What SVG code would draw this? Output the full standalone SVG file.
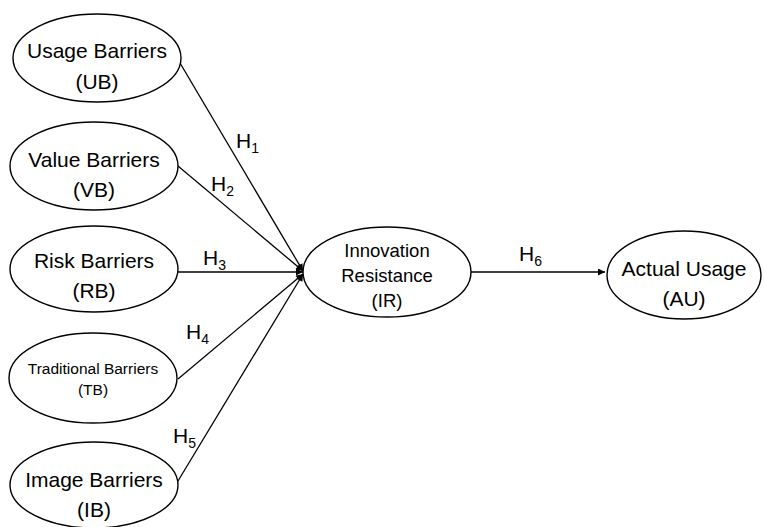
<svg xmlns="http://www.w3.org/2000/svg" width="764" height="527" viewBox="0 0 764 527">
<style>
.n ellipse{fill:#fff;stroke:#000;stroke-width:1.4}
text{font-family:"Liberation Sans",Arial,sans-serif;fill:#000;text-anchor:middle}
.big{font-size:21px}
.sm{font-size:15.5px}
.md{font-size:18.5px}
.h{font-size:21px;text-anchor:start}
.h tspan.s{font-size:14px}
#edges line{stroke:#000;stroke-width:1.3;fill:none}
</style>
<defs>
<marker id="ah" viewBox="0 0 10 10" refX="10" refY="5" markerWidth="8" markerHeight="7" markerUnits="userSpaceOnUse" orient="auto">
<path d="M0,0 L10,5 L0,10 z" fill="#000"/>
</marker>
</defs>
<rect width="764" height="527" fill="#fff"/>
<g id="edges">
<line x1="180" y1="63" x2="303" y2="271" marker-end="url(#ah)"/>
<line x1="178" y1="166" x2="303" y2="271" marker-end="url(#ah)"/>
<line x1="178" y1="272" x2="303" y2="272" marker-end="url(#ah)"/>
<line x1="178" y1="379" x2="303" y2="274" marker-end="url(#ah)"/>
<line x1="178" y1="481" x2="303" y2="274" marker-end="url(#ah)"/>
<line x1="471" y1="272" x2="605" y2="272" marker-end="url(#ah)"/>
</g>
<g id="labels">
<text class="h" x="236" y="148">H<tspan class="s" dy="5">1</tspan></text>
<text class="h" x="211" y="191">H<tspan class="s" dy="5">2</tspan></text>
<text class="h" x="203" y="265">H<tspan class="s" dy="5">3</tspan></text>
<text class="h" x="186" y="339">H<tspan class="s" dy="5">4</tspan></text>
<text class="h" x="173" y="443">H<tspan class="s" dy="5">5</tspan></text>
<text class="h" x="519" y="261">H<tspan class="s" dy="5">6</tspan></text>
</g>
<g id="UB" class="n"><ellipse cx="97" cy="58" rx="84" ry="44"/><text class="big" x="97" y="58">Usage Barriers</text><text class="big" x="97" y="89">(UB)</text></g>
<g id="VB" class="n"><ellipse cx="94" cy="166" rx="84" ry="44"/><text class="big" x="94" y="167">Value Barriers</text><text class="big" x="94" y="197">(VB)</text></g>
<g id="RB" class="n"><ellipse cx="94" cy="269" rx="84" ry="43"/><text class="big" x="94" y="268">Risk Barriers</text><text class="big" x="94" y="298">(RB)</text></g>
<g id="TB" class="n"><ellipse cx="93" cy="378" rx="84" ry="45"/><text class="sm" x="93" y="374">Traditional Barriers</text><text class="sm" x="93" y="395">(TB)</text></g>
<g id="IB" class="n"><ellipse cx="94" cy="485" rx="84" ry="43"/><text class="big" x="94" y="487">Image Barriers</text><text class="big" x="94" y="517">(IB)</text></g>
<g id="IR" class="n"><ellipse cx="387" cy="272" rx="84" ry="45"/><text class="md" x="387" y="257">Innovation</text><text class="md" x="387" y="282">Resistance</text><text class="md" x="387" y="307">(IR)</text></g>
<g id="AU" class="n"><ellipse cx="684" cy="275" rx="77" ry="44"/><text class="big" x="684" y="276">Actual Usage</text><text class="big" x="684" y="306">(AU)</text></g>
</svg>
